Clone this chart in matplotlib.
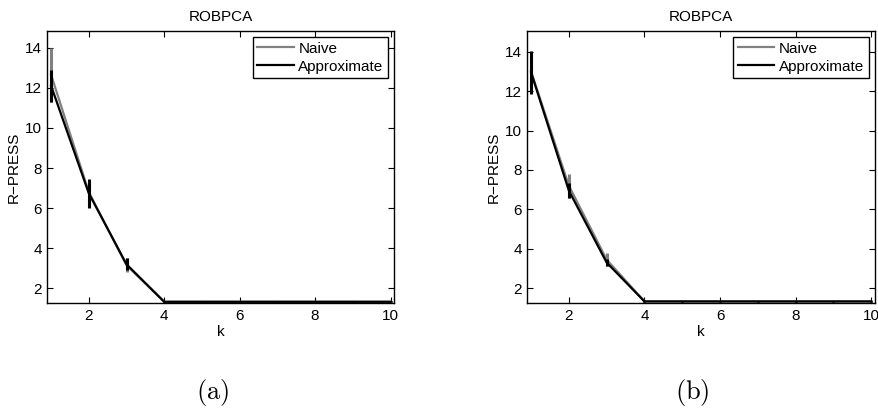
import matplotlib
matplotlib.use("Agg")
import matplotlib.pyplot as plt
from matplotlib.lines import Line2D

plt.rcParams['font.family'] = ['Liberation Sans', 'DejaVu Sans']
plt.rcParams['mathtext.fontset'] = 'cm'

k = [1, 2, 3, 4, 5, 6, 7, 8, 9, 10]

# Panel (a)
a_naive = [12.65, 6.8, 3.15, 1.33, 1.33, 1.33, 1.33, 1.33, 1.33, 1.33]
a_naive_err = [1.35, 0.5, 0.35, 0.03, 0.03, 0.03, 0.03, 0.03, 0.03, 0.03]
a_approx = [12.1, 6.74, 3.2, 1.33, 1.33, 1.33, 1.33, 1.33, 1.33, 1.33]
a_approx_err = [0.79, 0.72, 0.3, 0.03, 0.03, 0.03, 0.03, 0.03, 0.03, 0.03]

# Panel (b)
b_naive = [13.0, 7.2, 3.45, 1.33, 1.33, 1.33, 1.33, 1.33, 1.33, 1.33]
b_naive_err = [1.0, 0.62, 0.33, 0.03, 0.03, 0.03, 0.03, 0.03, 0.03, 0.03]
b_approx = [12.95, 6.95, 3.3, 1.33, 1.33, 1.33, 1.33, 1.33, 1.33, 1.33]
b_approx_err = [1.1, 0.38, 0.17, 0.03, 0.03, 0.03, 0.03, 0.03, 0.03, 0.03]

xticks = [2, 4, 6, 8, 10]
yticks = [2, 4, 6, 8, 10, 12, 14]

W, H = 879, 411
fig = plt.figure(figsize=(W / 100, H / 100), dpi=100)

panels = [
    dict(rect=[47.3 / W, 1 - 303 / H, (394.3 - 47.3) / W, (303 - 31) / H],
         naive=a_naive, nerr=a_naive_err, approx=a_approx, aerr=a_approx_err,
         ylim=(1.27, 14.83), label=r'$\mathrm{(a)}$', lx=213),
    dict(rect=[527.3 / W, 1 - 303 / H, (875 - 527.3) / W, (303 - 31) / H],
         naive=b_naive, nerr=b_naive_err, approx=b_approx, aerr=b_approx_err,
         ylim=(1.25, 15.05), label=r'$\mathrm{(b)}$', lx=692),
]

GREY = '#808080'
for p in panels:
    ax = fig.add_axes(p['rect'])
    ax.errorbar(k, p['naive'], yerr=p['nerr'], color=GREY, lw=1.6,
                elinewidth=2.2, capsize=0, zorder=2)
    ax.errorbar(k, p['approx'], yerr=p['aerr'], color='black', lw=1.6,
                elinewidth=2.2, capsize=0, zorder=3)
    ax.set_xlim(0.9, 10.1)
    ax.set_ylim(*p['ylim'])
    ax.set_xticks(xticks)
    ax.set_yticks(yticks)
    ax.tick_params(direction='in', top=True, right=True, length=4,
                   labelsize=11, width=0.8, pad=4)
    for s in ax.spines.values():
        s.set_linewidth(1.0)
    ax.set_title('ROBPCA', fontsize=11, pad=7)
    ax.set_xlabel('k', fontsize=11, labelpad=2)
    ax.set_ylabel('R\u2212PRESS', fontsize=11, labelpad=3)
    handles = [Line2D([], [], color=GREY, lw=1.6),
               Line2D([], [], color='black', lw=1.6)]
    leg = ax.legend(handles, ['Naive', 'Approximate'], loc='upper right',
                    fontsize=11, frameon=True, fancybox=False, borderpad=0.3,
                    handlelength=2.4, handletextpad=0.3, labelspacing=0.25,
                    borderaxespad=0.4, framealpha=1)
    leg.get_frame().set_edgecolor('black')
    leg.get_frame().set_linewidth(1.0)
    fig.text(p['lx'] / W, 1 - 392 / H, p['label'], fontsize=19,
             ha='center', va='center')

fig.savefig('out.png', dpi=100)
